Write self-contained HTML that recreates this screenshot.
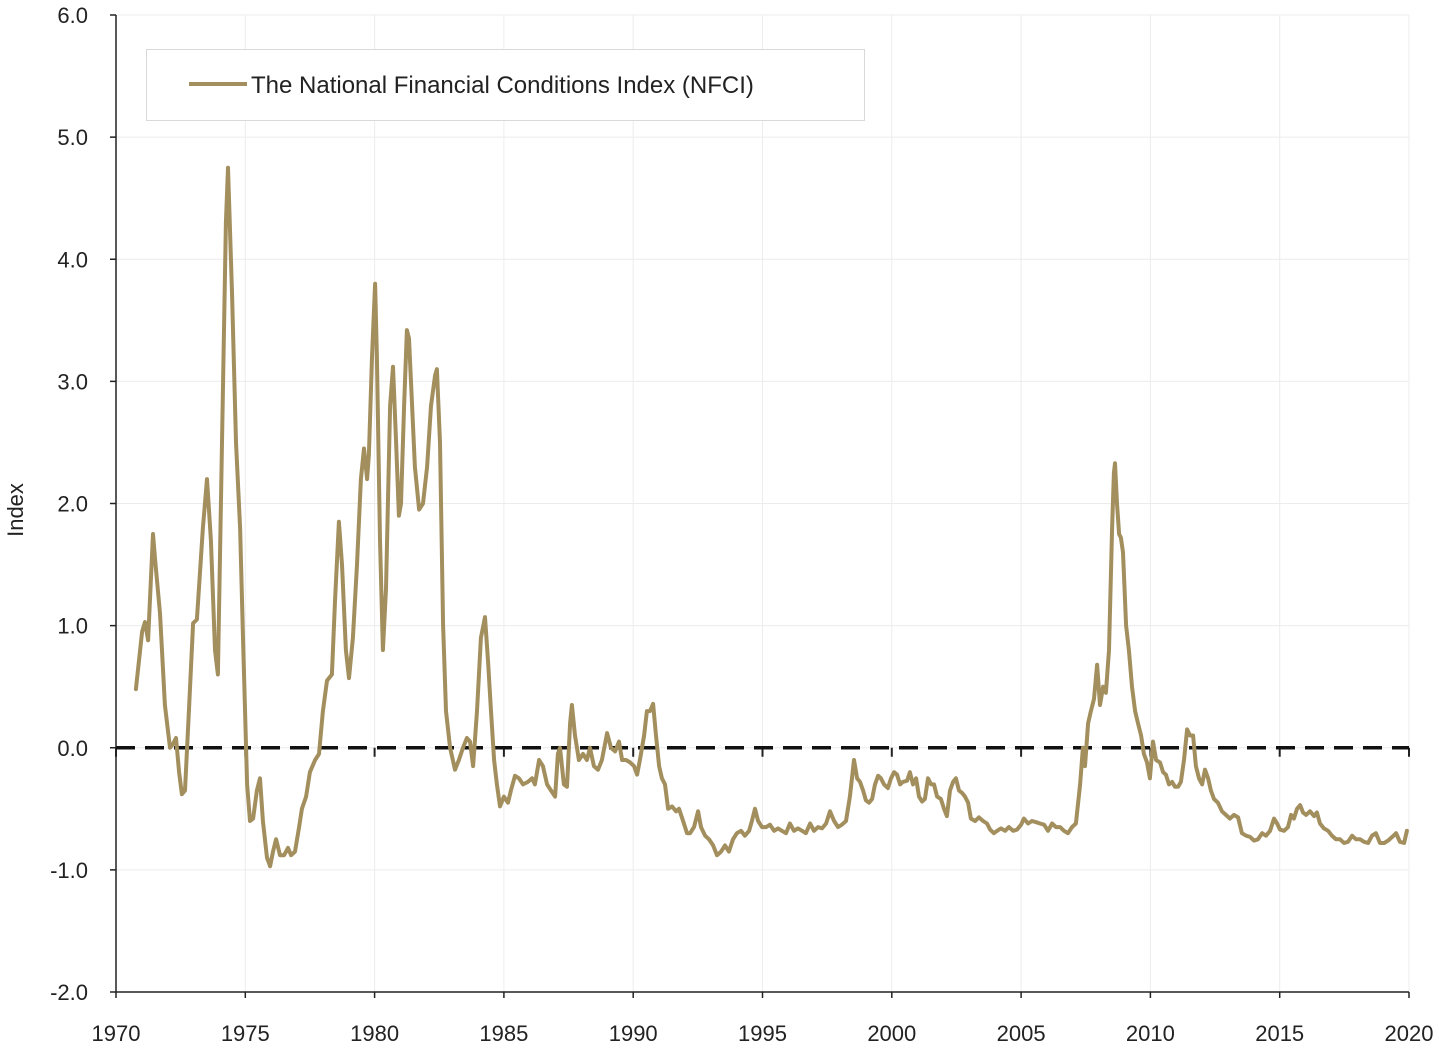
<!DOCTYPE html>
<html><head><meta charset="utf-8"><style>
html,body{margin:0;padding:0;background:#fff;}
svg{display:block;font-family:"Liberation Sans",sans-serif;}
</style></head><body>
<svg id="chart" width="1439" height="1049" viewBox="0 0 1439 1049" xmlns="http://www.w3.org/2000/svg">
<g id="grid"></g>
<g id="axes"></g>
<g id="series"></g>
<g>
<rect x="146.5" y="49.5" width="718" height="71" fill="#fff" stroke="#d9d9d9" stroke-width="1"/>
<line x1="189" y1="84" x2="247" y2="84" stroke="#a38f5e" stroke-width="4"/>
<text x="251" y="93" font-size="24" fill="#222">The National Financial Conditions Index (NFCI)</text>
</g>
<text transform="translate(23,510) rotate(-90)" text-anchor="middle" font-size="22" fill="#222">Index</text>
</svg>
<script>
const years=[1970.77,1971.01,1971.12,1971.24,1971.43,1971.51,1971.70,1971.89,1972.09,1972.20,1972.32,1972.44,1972.55,1972.67,1972.82,1972.98,1973.13,1973.36,1973.52,1973.67,1973.83,1973.94,1974.10,1974.25,1974.33,1974.49,1974.64,1974.80,1974.91,1975.07,1975.18,1975.30,1975.45,1975.57,1975.68,1975.84,1975.96,1976.07,1976.19,1976.34,1976.50,1976.65,1976.77,1976.92,1977.08,1977.19,1977.35,1977.50,1977.70,1977.85,1978.00,1978.16,1978.35,1978.47,1978.62,1978.74,1978.89,1979.01,1979.16,1979.32,1979.47,1979.59,1979.71,1979.78,1979.90,1980.02,1980.09,1980.21,1980.32,1980.44,1980.60,1980.71,1980.83,1980.94,1981.02,1981.14,1981.25,1981.33,1981.45,1981.56,1981.72,1981.87,1982.03,1982.18,1982.34,1982.41,1982.53,1982.65,1982.76,1982.92,1983.11,1983.26,1983.42,1983.57,1983.69,1983.81,1983.96,1984.11,1984.27,1984.39,1984.50,1984.62,1984.73,1984.85,1985.00,1985.16,1985.27,1985.43,1985.58,1985.74,1985.93,1986.09,1986.20,1986.36,1986.51,1986.67,1986.82,1986.98,1987.09,1987.17,1987.32,1987.44,1987.56,1987.63,1987.75,1987.90,1988.06,1988.21,1988.33,1988.48,1988.64,1988.79,1988.99,1989.14,1989.30,1989.45,1989.57,1989.72,1989.88,1990.03,1990.15,1990.26,1990.42,1990.53,1990.65,1990.77,1990.88,1991.00,1991.11,1991.23,1991.35,1991.50,1991.66,1991.77,1991.93,1992.08,1992.20,1992.35,1992.51,1992.62,1992.78,1992.93,1993.09,1993.24,1993.40,1993.55,1993.70,1993.86,1994.01,1994.17,1994.32,1994.48,1994.59,1994.71,1994.83,1994.98,1995.14,1995.29,1995.45,1995.60,1995.75,1995.91,1996.06,1996.22,1996.37,1996.53,1996.68,1996.84,1996.99,1997.15,1997.30,1997.46,1997.61,1997.77,1997.92,1998.07,1998.23,1998.38,1998.54,1998.66,1998.77,1998.89,1999.00,1999.12,1999.24,1999.35,1999.47,1999.58,1999.70,1999.85,1999.97,2000.09,2000.20,2000.32,2000.43,2000.59,2000.70,2000.82,2000.94,2001.05,2001.17,2001.28,2001.40,2001.52,2001.63,2001.75,2001.90,2002.02,2002.13,2002.25,2002.37,2002.48,2002.60,2002.72,2002.83,2002.95,2003.06,2003.22,2003.37,2003.53,2003.68,2003.80,2003.95,2004.07,2004.22,2004.38,2004.53,2004.69,2004.84,2005.00,2005.11,2005.27,2005.42,2005.58,2005.73,2005.89,2006.04,2006.20,2006.35,2006.51,2006.66,2006.81,2006.97,2007.12,2007.28,2007.39,2007.47,2007.59,2007.70,2007.82,2007.94,2008.05,2008.17,2008.28,2008.40,2008.52,2008.59,2008.63,2008.71,2008.79,2008.86,2008.94,2009.06,2009.17,2009.29,2009.41,2009.52,2009.64,2009.75,2009.87,2009.98,2010.10,2010.22,2010.37,2010.49,2010.60,2010.72,2010.84,2010.95,2011.07,2011.18,2011.30,2011.42,2011.53,2011.65,2011.76,2011.88,2012.00,2012.11,2012.23,2012.34,2012.46,2012.61,2012.77,2012.92,2013.08,2013.23,2013.39,2013.54,2013.70,2013.85,2014.01,2014.16,2014.32,2014.47,2014.63,2014.78,2014.90,2015.01,2015.17,2015.32,2015.44,2015.55,2015.67,2015.79,2015.90,2016.02,2016.17,2016.33,2016.44,2016.56,2016.71,2016.87,2017.02,2017.18,2017.33,2017.49,2017.64,2017.80,2017.95,2018.11,2018.26,2018.42,2018.57,2018.72,2018.88,2019.04,2019.19,2019.35,2019.50,2019.65,2019.81,2019.92];
const nfci=[0.48,0.95,1.03,0.88,1.75,1.55,1.1,0.35,0.0,0.03,0.08,-0.2,-0.38,-0.35,0.3,1.02,1.05,1.8,2.2,1.7,0.8,0.6,2.5,4.3,4.75,3.7,2.5,1.8,0.9,-0.3,-0.6,-0.58,-0.35,-0.25,-0.6,-0.9,-0.97,-0.85,-0.75,-0.88,-0.88,-0.82,-0.88,-0.85,-0.65,-0.5,-0.4,-0.2,-0.1,-0.05,0.3,0.55,0.6,1.2,1.85,1.5,0.8,0.57,0.9,1.5,2.2,2.45,2.2,2.4,3.2,3.8,3.2,1.7,0.8,1.3,2.8,3.12,2.5,1.9,2.0,2.8,3.42,3.35,2.8,2.3,1.95,2.0,2.3,2.8,3.05,3.1,2.5,1.0,0.3,0.0,-0.18,-0.1,0.0,0.08,0.05,-0.15,0.3,0.9,1.07,0.7,0.3,-0.1,-0.3,-0.48,-0.4,-0.45,-0.35,-0.23,-0.25,-0.3,-0.28,-0.25,-0.3,-0.1,-0.15,-0.3,-0.35,-0.4,-0.05,0.0,-0.3,-0.32,0.2,0.35,0.1,-0.1,-0.05,-0.1,0.0,-0.15,-0.18,-0.1,0.12,0.0,-0.03,0.05,-0.1,-0.1,-0.12,-0.15,-0.22,-0.1,0.1,0.3,0.3,0.36,0.1,-0.15,-0.25,-0.3,-0.5,-0.48,-0.52,-0.5,-0.6,-0.7,-0.7,-0.65,-0.52,-0.65,-0.72,-0.75,-0.8,-0.88,-0.85,-0.8,-0.85,-0.75,-0.7,-0.68,-0.72,-0.68,-0.6,-0.5,-0.6,-0.65,-0.65,-0.63,-0.68,-0.66,-0.68,-0.7,-0.62,-0.68,-0.66,-0.68,-0.7,-0.62,-0.68,-0.65,-0.66,-0.62,-0.52,-0.6,-0.65,-0.63,-0.6,-0.4,-0.1,-0.25,-0.28,-0.35,-0.43,-0.45,-0.42,-0.3,-0.23,-0.25,-0.3,-0.33,-0.25,-0.2,-0.22,-0.3,-0.28,-0.27,-0.2,-0.3,-0.25,-0.4,-0.44,-0.42,-0.25,-0.3,-0.3,-0.4,-0.42,-0.5,-0.56,-0.35,-0.28,-0.25,-0.35,-0.37,-0.4,-0.45,-0.58,-0.6,-0.57,-0.6,-0.62,-0.67,-0.7,-0.68,-0.66,-0.68,-0.65,-0.68,-0.67,-0.63,-0.58,-0.62,-0.6,-0.61,-0.62,-0.63,-0.68,-0.62,-0.65,-0.65,-0.68,-0.7,-0.65,-0.62,-0.3,0.0,-0.15,0.2,0.3,0.4,0.68,0.35,0.5,0.45,0.8,1.8,2.25,2.33,2.0,1.75,1.72,1.6,1.0,0.8,0.5,0.3,0.2,0.1,-0.05,-0.12,-0.25,0.05,-0.1,-0.12,-0.2,-0.22,-0.3,-0.28,-0.32,-0.32,-0.28,-0.1,0.15,0.1,0.1,-0.15,-0.25,-0.3,-0.18,-0.25,-0.35,-0.42,-0.45,-0.52,-0.55,-0.58,-0.55,-0.57,-0.7,-0.72,-0.73,-0.76,-0.75,-0.7,-0.72,-0.68,-0.58,-0.62,-0.67,-0.68,-0.65,-0.55,-0.58,-0.5,-0.47,-0.53,-0.55,-0.52,-0.56,-0.53,-0.62,-0.66,-0.68,-0.72,-0.75,-0.75,-0.78,-0.77,-0.72,-0.75,-0.75,-0.77,-0.78,-0.72,-0.7,-0.78,-0.78,-0.76,-0.73,-0.7,-0.77,-0.78,-0.68];
const yTicks=[6,5,4,3,2,1,0,-1,-2];
const yTickLabels=["6.0","5.0","4.0","3.0","2.0","1.0","0.0","-1.0","-2.0"];
const xTicks=[1970,1975,1980,1985,1990,1995,2000,2005,2010,2015,2020];

const NS="http://www.w3.org/2000/svg";
const L=116,R=1409,T=15,B=992;
const xs=v=>L+(v-1970)/50*(R-L);
const ys=v=>T+(6-v)/8*(B-T);
function mk(tag,attrs,parent){const e=document.createElementNS(NS,tag);for(const k in attrs)e.setAttribute(k,attrs[k]);parent.appendChild(e);return e;}
const grid=document.getElementById('grid'),axes=document.getElementById('axes'),series=document.getElementById('series');
yTicks.forEach((t,i)=>{
  const y=ys(t);
  if(t!==-2){const g=mk('line',{x1:L,x2:R,y1:y,y2:y,stroke:'#ececec','stroke-width':1},grid);
  
  }
  const tk=mk('line',{x1:L-6,x2:L,y1:y,y2:y,stroke:'#222','stroke-width':1.5},axes);
  
  
  const tx=mk('text',{x:88,y:y+8,'text-anchor':'end','font-size':22,fill:'#222'},axes);
  
  
  tx.textContent=yTickLabels[i];
});
xTicks.forEach(t=>{
  const x=xs(t);
  if(t!==1970){const g=mk('line',{x1:x,x2:x,y1:T,y2:B,stroke:'#ececec','stroke-width':1},grid);
  
  }
  const tk=mk('line',{x1:x,x2:x,y1:B,y2:B+6,stroke:'#222','stroke-width':1.5},axes);
  
  
  const zt=mk('line',{x1:x,x2:x,y1:ys(0),y2:ys(0)+9,stroke:'#222','stroke-width':2},axes);
  
  
  const tx=mk('text',{x:x,y:1041,'text-anchor':'middle','font-size':22,fill:'#222'},axes);
  
  
  tx.textContent=String(t);
});
const ya=mk('line',{x1:L,x2:L,y1:T,y2:B,stroke:'#222','stroke-width':1.5},axes);


const xa=mk('line',{x1:L,x2:R,y1:B,y2:B,stroke:'#222','stroke-width':1.5},axes);


const z=mk('line',{x1:L,x2:R,y1:ys(0),y2:ys(0),stroke:'#111','stroke-width':3.5,'stroke-dasharray':'19 10'},axes);


const d=years.map((yr,i)=>(i?'L':'M')+xs(yr).toFixed(1)+' '+ys(nfci[i]).toFixed(1)).join(' ');
const p=mk('path',{d:d,fill:'none',stroke:'#a38f5e','stroke-width':4,'stroke-linejoin':'round','stroke-linecap':'round'},series);


</script>
</body></html>
